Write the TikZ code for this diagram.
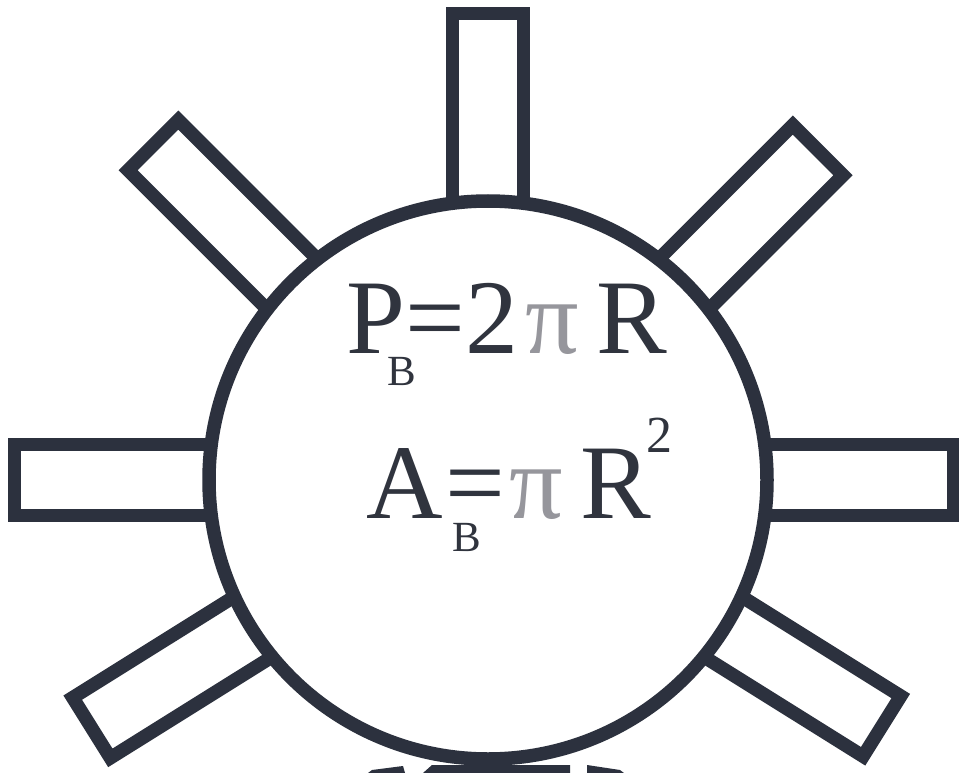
\documentclass[tikz,border=0pt]{standalone}
\usepackage{fontspec}
\setmainfont{Liberation Serif}
\newfontfamily\tnr{Liberation Serif}
\usetikzlibrary{calc}
\definecolor{ink}{RGB}{44,49,62}
\definecolor{txt}{RGB}{48,52,62}
\definecolor{pigray}{RGB}{150,150,156}
\begin{document}
\begin{tikzpicture}[x=1pt,y=-1pt,
  rayline/.style={draw=ink,line width=13.5pt,line join=miter,fill=white},
  ringline/.style={draw=ink,line width=13.5pt},
  big/.style={inner sep=0pt,anchor=base west,text=txt,font=\tnr\fontsize{106}{110}\selectfont},
  sub/.style={inner sep=0pt,anchor=base west,text=txt,font=\tnr\fontsize{43}{46}\selectfont},
  sup/.style={inner sep=0pt,anchor=base west,text=txt,font=\tnr\fontsize{52}{55}\selectfont},
  pisym/.style={inner sep=0pt,anchor=base west,text=pigray,font=\tnr\fontsize{106}{110}\selectfont}]
\useasboundingbox[fill=white] (0,0) rectangle (959,773);
\coordinate (C) at (488,480);
% rays
\foreach \a/\L in {90/466.5,45/466.5,135/473.5,0/465.5,180/473.5,-32/464.5,212/467.5}{
  \begin{scope}[shift={(C)},rotate=\a]
    \draw[rayline] (276.7,-35.5) -- (\L,-35.5) -- (\L,35.5) -- (276.7,35.5) -- cycle;
  \end{scope}
}
% cut-off pieces at the bottom edge
\fill[ink] (368,773) -- (372,770) -- (403,766) -- (405,773) -- cycle;
\fill[ink] (423,773) -- (432,765) -- (570,765) -- (570,773) -- cycle;
\fill[ink] (587,773) -- (587,765) -- (620,770) -- (624,773) -- cycle;
% ring
\draw[ringline,fill=white] (C) circle[radius=279];
% formulas
\node[big] (p1) at (346,353) {P};
\node[sub] (b1) at (387,385) {B};
\node[big] (e1) at (405,353) {=};
\node[big] (t1) at (465,353) {2};
\node[pisym] (pi1) at (525,353) {π};
\node[big] (r1) at (596,353) {R};
\node[big] (a2) at (366,518) {A};
\node[sub] (b2) at (452,551) {B};
\node[big] (e2) at (445,518) {=};
\node[pisym] (pi2) at (509,518) {π};
\node[big] (r2) at (580,518) {R};
\node[sup] (s2) at (646,452) {2};
\end{tikzpicture}
\end{document}
